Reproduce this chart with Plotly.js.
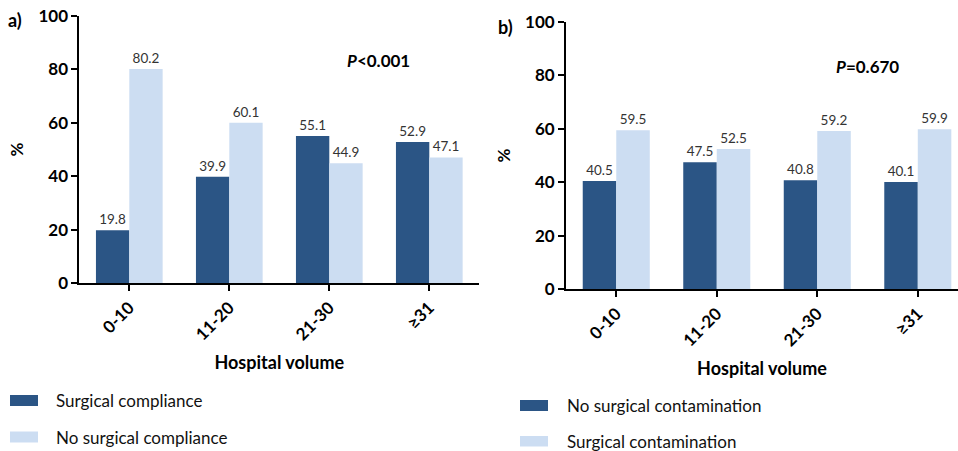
<!DOCTYPE html>
<html>
<head>
<meta charset="utf-8">
<script src="https://cdn.plot.ly/plotly-3.0.1.min.js"></script>
<style>html,body{margin:0;padding:0;background:#fff;}</style>
</head>
<body>
<div id="chart" style="width:958px;height:451px;"></div>
<script>
// ---- data ----
var categories = ["0-10", "11-20", "21-30", "\u226531"];
var complianceA = [19.8, 39.9, 55.1, 52.9];
var noComplianceA = [80.2, 60.1, 44.9, 47.1];
var noContaminationB = [40.5, 47.5, 40.8, 40.1];
var contaminationB = [59.5, 52.5, 59.2, 59.9];
var seriesNamesA = ["Surgical compliance", "No surgical compliance"];
var seriesNamesB = ["No surgical contamination", "Surgical contamination"];
var yTicks = [0, 20, 40, 60, 80, 100];
var panelLabels = ["a)", "b)"];
var pTexts = ["<b><i>P</i>&lt;0.001</b>", "<b><i>P</i>=0.670</b>"];

// ---- style ----
var W = 958, H = 451;
var DARK = "#2b5585", LIGHT = "#ccddf2";
var FONT = "Lato, 'Open Sans', sans-serif";
function px(x) { return x / W; }
function py(y) { return 1 - y / H; }

function barTrace(y, name, color, xa, ya) {
  return {
    type: "bar", x: categories, y: y, name: name,
    xaxis: xa, yaxis: ya,
    marker: { color: color, line: { width: 0 } },
    texttemplate: "%{y:.1f}", textposition: "outside",
    textfont: { family: FONT, size: 13.5, color: "#333333" },
    cliponaxis: false, showlegend: false, hoverinfo: "x+y+name"
  };
}

var data = [
  barTrace(complianceA, seriesNamesA[0], DARK, "x", "y"),
  barTrace(noComplianceA, seriesNamesA[1], LIGHT, "x", "y"),
  barTrace(noContaminationB, seriesNamesB[0], DARK, "x2", "y2"),
  barTrace(contaminationB, seriesNamesB[1], LIGHT, "x2", "y2")
];

function xAxis(domain, range, anchor) {
  return {
    domain: domain, range: range, anchor: anchor, type: "category",
    showline: true, linecolor: "#000", linewidth: 1.8,
    ticks: "outside", ticklen: 6, tickwidth: 1.6, tickcolor: "#000",
    tickangle: -45, showgrid: false, zeroline: false,
    tickfont: { family: FONT, size: 17, color: "#000", weight: "bold" },
    title: { text: "<b>Hospital volume</b>", font: { family: FONT, size: 18, color: "#000" }, standoff: 13 }
  };
}
function yAxis(domain, anchor) {
  return {
    domain: domain, range: [0, 100], anchor: anchor,
    tickvals: yTicks, showline: true, linecolor: "#000", linewidth: 1.8,
    ticks: "outside", ticklen: 6, tickwidth: 1.6, tickcolor: "#000",
    showgrid: false, zeroline: false,
    tickfont: { family: FONT, size: 17, color: "#000", weight: "bold" },
    title: { text: "<b>%</b>", font: { family: FONT, size: 17, color: "#000" }, standoff: 10 }
  };
}

var legendItems = [
  { name: seriesNamesA[0], color: DARK, x0: 10, x1: 38, y0: 395, y1: 406, tx: 54, ty: 400.5 },
  { name: seriesNamesA[1], color: LIGHT, x0: 10, x1: 38, y0: 431.5, y1: 442.5, tx: 54, ty: 437 },
  { name: seriesNamesB[0], color: DARK, x0: 520, x1: 548, y0: 400, y1: 411, tx: 565, ty: 405.5 },
  { name: seriesNamesB[1], color: LIGHT, x0: 520, x1: 548, y0: 436, y1: 446.5, tx: 565, ty: 441.5 }
];

var shapes = legendItems.map(function (it) {
  return { type: "rect", xref: "paper", yref: "paper",
    x0: px(it.x0), x1: px(it.x1), y0: py(it.y1), y1: py(it.y0),
    fillcolor: it.color, line: { width: 0 } };
});

var annotations = legendItems.map(function (it) {
  return { xref: "paper", yref: "paper", x: px(it.tx), y: py(it.ty),
    xanchor: "left", yanchor: "middle", showarrow: false, text: it.name,
    font: { family: FONT, size: 17, color: "#111" } };
});
annotations.push(
  { xref: "paper", yref: "paper", x: px(15), y: py(20), xanchor: "center", yanchor: "middle",
    showarrow: false, text: "<b>" + panelLabels[0] + "</b>", font: { family: FONT, size: 18, color: "#000" } },
  { xref: "paper", yref: "paper", x: px(505), y: py(27), xanchor: "center", yanchor: "middle",
    showarrow: false, text: "<b>" + panelLabels[1] + "</b>", font: { family: FONT, size: 18, color: "#000" } },
  { xref: "paper", yref: "paper", x: px(378), y: py(60), xanchor: "center", yanchor: "middle",
    showarrow: false, text: pTexts[0], font: { family: FONT, size: 17, color: "#000" } },
  { xref: "paper", yref: "paper", x: px(867), y: py(66), xanchor: "center", yanchor: "middle",
    showarrow: false, text: pTexts[1], font: { family: FONT, size: 17, color: "#000" } }
);

var layout = {
  width: W, height: H,
  margin: { l: 0, r: 0, t: 0, b: 0 },
  paper_bgcolor: "#fff", plot_bgcolor: "rgba(0,0,0,0)",
  font: { family: FONT, color: "#000" },
  barmode: "group", bargap: 0.333, bargroupgap: 0,
  showlegend: false,
  xaxis: xAxis([px(79.3), px(479.3)], [-0.5, 3.5], "y"),
  yaxis: yAxis([py(283.3), py(16)], "x"),
  xaxis2: xAxis([px(566), 1], [-0.5, 3.4], "y2"),
  yaxis2: yAxis([py(289.3), py(22)], "x2"),
  shapes: shapes,
  annotations: annotations
};

Plotly.newPlot("chart", data, layout, { displayModeBar: false, responsive: false });
</script>
</body>
</html>
